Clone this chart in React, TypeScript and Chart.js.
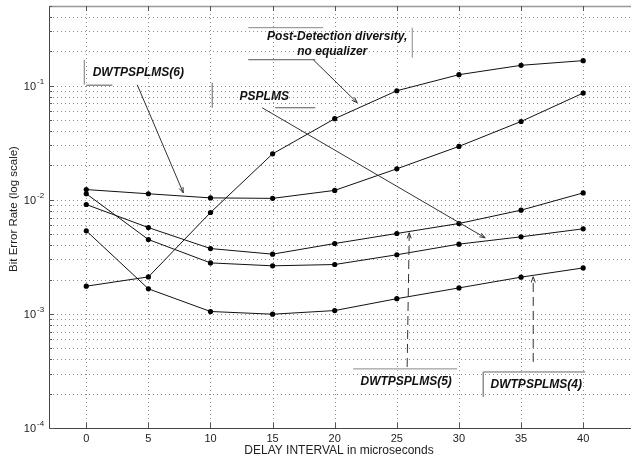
import React, { useEffect, useRef } from "react";
import { Chart, registerables } from "chart.js";

Chart.register(...registerables);

// ---- data ----
const delays = [0, 5, 10, 15, 20, 25, 30, 35, 40];
const postDetection = [0.00175, 0.00211, 0.00774, 0.0253, 0.0514, 0.0904, 0.125, 0.151, 0.166];
const dwtpsplms6 = [0.0123, 0.0113, 0.0104, 0.0103, 0.0121, 0.0187, 0.0294, 0.0486, 0.0863];
const psplms = [0.0113, 0.00449, 0.0028, 0.00264, 0.00271, 0.0033, 0.00409, 0.00474, 0.00557];
const dwtpsplms5 = [0.0091, 0.00571, 0.00374, 0.00334, 0.00414, 0.00507, 0.0062, 0.00812, 0.0115];
const dwtpsplms4 = [0.00535, 0.00166, 0.00105, 0.000994, 0.00107, 0.00136, 0.00169, 0.0021, 0.00253];

const xTicks = [0, 5, 10, 15, 20, 25, 30, 35, 40];
const yDecades = [-4, -3, -2, -1];
const xTitle = "DELAY INTERVAL in microseconds";
const yTitle = "Bit Error Rate (log scale)";

const FONT = '"Liberation Sans", Arial, sans-serif';

function gridValues(): number[] {
  const out: number[] = [];
  for (const e of yDecades) {
    for (let m = 1; m <= 9; m++) {
      const v = m * Math.pow(10, e);
      if (v <= 0.5 + 1e-9) out.push(v);
    }
  }
  return out;
}

const decorPlugin = {
  id: "matlabDecor",
  beforeDatasetsDraw(chart: any) {
    const { ctx, chartArea: a, scales } = chart;
    const x = scales.x;
    const y = scales.y;
    ctx.save();
    ctx.beginPath();
    ctx.rect(a.left, a.top, a.right - a.left, a.bottom - a.top);
    ctx.clip();
    ctx.strokeStyle = "#8c8c8c";
    ctx.lineWidth = 1;
    ctx.setLineDash([1, 3]);
    for (const v of xTicks) {
      const px = Math.round(x.getPixelForValue(v)) + 0.5;
      ctx.beginPath();
      ctx.moveTo(px, a.top);
      ctx.lineTo(px, a.bottom);
      ctx.stroke();
    }
    for (const v of gridValues()) {
      const py = Math.round(y.getPixelForValue(v)) + 0.5;
      ctx.beginPath();
      ctx.moveTo(a.left, py);
      ctx.lineTo(a.right, py);
      ctx.stroke();
    }
    ctx.restore();

    // axes frame
    ctx.save();
    ctx.setLineDash([]);
    ctx.lineWidth = 1;
    ctx.strokeStyle = "#444";
    ctx.beginPath();
    ctx.moveTo(a.left + 0.5, a.top);
    ctx.lineTo(a.left + 0.5, a.bottom + 0.5);
    ctx.lineTo(a.right, a.bottom + 0.5);
    ctx.stroke();
    ctx.strokeStyle = "#999";
    ctx.lineWidth = 1.5;
    ctx.beginPath();
    ctx.moveTo(a.left, a.top + 0.5);
    ctx.lineTo(a.right, a.top + 0.5);
    ctx.stroke();
    // tick marks
    ctx.lineWidth = 1;
    ctx.strokeStyle = "#555";
    for (const v of xTicks) {
      const px = Math.round(x.getPixelForValue(v)) + 0.5;
      ctx.beginPath();
      ctx.moveTo(px, a.bottom);
      ctx.lineTo(px, a.bottom - 5);
      ctx.moveTo(px, a.top);
      ctx.lineTo(px, a.top + 5);
      ctx.stroke();
    }
    for (const v of gridValues()) {
      const py = Math.round(y.getPixelForValue(v)) + 0.5;
      const major = Math.abs(Math.log10(v) - Math.round(Math.log10(v))) < 1e-6;
      ctx.beginPath();
      ctx.moveTo(a.left, py);
      ctx.lineTo(a.left + (major ? 5 : 3), py);
      ctx.stroke();
    }
    ctx.restore();
  },
  afterDatasetsDraw(chart: any) {
    const { ctx, chartArea: a, scales } = chart;
    const x = scales.x;
    const y = scales.y;
    const P = (xv: number, ly: number): [number, number] => [
      x.getPixelForValue(xv),
      y.getPixelForValue(Math.pow(10, ly)),
    ];

    ctx.save();
    // y tick labels 10^e
    ctx.fillStyle = "#222";
    for (const e of yDecades) {
      const py = y.getPixelForValue(Math.pow(10, e));
      ctx.font = `11px ${FONT}`;
      ctx.textAlign = "right";
      ctx.textBaseline = "middle";
      ctx.fillText("10", 36, py + 1);
      ctx.font = `8px ${FONT}`;
      ctx.textAlign = "left";
      ctx.fillText(String(e), 37, py - 4);
    }
    // axis titles
    ctx.font = `12px ${FONT}`;
    ctx.textAlign = "center";
    ctx.textBaseline = "middle";
    ctx.fillText(xTitle, 339, 451);
    ctx.save();
    ctx.translate(14, 209);
    ctx.rotate(-Math.PI / 2);
    ctx.font = `11.5px ${FONT}`;
    ctx.fillText(yTitle, 0, 0);
    ctx.restore();

    // annotations
    const seg = (p: [number, number], q: [number, number], color = "#333", dash: number[] = []) => {
      ctx.save();
      ctx.strokeStyle = color;
      ctx.lineWidth = 1;
      ctx.setLineDash(dash);
      ctx.beginPath();
      ctx.moveTo(p[0], p[1]);
      ctx.lineTo(q[0], q[1]);
      ctx.stroke();
      ctx.restore();
    };
    const arrow = (p: [number, number], q: [number, number], dash: number[] = []) => {
      seg(p, q, "#333", dash);
      const ang = Math.atan2(q[1] - p[1], q[0] - p[0]);
      const L = 6;
      const w = 0.35;
      ctx.save();
      ctx.strokeStyle = "#333";
      ctx.lineWidth = 1;
      ctx.beginPath();
      ctx.moveTo(q[0] - L * Math.cos(ang - w), q[1] - L * Math.sin(ang - w));
      ctx.lineTo(q[0], q[1]);
      ctx.lineTo(q[0] - L * Math.cos(ang + w), q[1] - L * Math.sin(ang + w));
      ctx.stroke();
      ctx.restore();
    };
    const label = (t: string, p: [number, number]) => {
      ctx.save();
      ctx.font = `italic bold 12px ${FONT}`;
      ctx.fillStyle = "#111";
      ctx.textAlign = "center";
      ctx.textBaseline = "middle";
      ctx.fillText(t, p[0], p[1]);
      ctx.restore();
    };

    // DWTPSPLMS(6)
    label("DWTPSPLMS(6)", P(4.19, -0.886));
    seg(P(-0.16, -0.772), P(-0.16, -0.991), "#777");
    seg(P(0, -0.995), P(2.1, -0.995), "#555");
    arrow(P(4.1, -0.991), P(7.81, -1.939));

    // PSPLMS
    label("PSPLMS", P(14.33, -1.096));
    seg(P(10.14, -0.974), P(10.14, -1.193), "#666");
    seg(P(15.2, -1.193), P(18.43, -1.193), "#555");
    arrow(P(14.16, -1.193), P(32.11, -2.333));

    // Post-Detection
    label("Post-Detection diversity,", P(20.2, -0.57));
    label("no equalizer", P(19.8, -0.702));
    seg(P(13.04, -0.491), P(19.07, -0.491), "#888");
    seg(P(13.04, -0.772), P(18.43, -0.772), "#555");
    seg(P(26.24, -0.491), P(26.24, -0.754), "#888");
    arrow(P(18.27, -0.772), P(21.81, -1.149));

    // DWTPSPLMS(5)
    label("DWTPSPLMS(5)", P(25.75, -3.596));
    seg(P(21.49, -3.482), P(29.86, -3.482), "#888");
    arrow(P(25.83, -3.465), P(26.0, -2.289), [9, 5]);

    // DWTPSPLMS(4)
    label("DWTPSPLMS(4)", P(36.22, -3.623));
    seg(P(31.95, -3.509), P(31.95, -3.728), "#555");
    seg(P(31.95, -3.509), P(40.16, -3.509), "#666");
    arrow(P(35.98, -3.421), P(35.98, -2.675), [9, 5]);

    ctx.restore();
  },
};

function series(label: string, values: number[]) {
  return {
    label,
    data: delays.map((d, i) => ({ x: d, y: values[i] })),
    borderColor: "#111",
    backgroundColor: "#000",
    borderWidth: 1,
    pointRadius: 2.6,
    pointBorderWidth: 0,
    pointBackgroundColor: "#000",
    tension: 0,
    fill: false,
  };
}

export default function App() {
  const ref = useRef<HTMLCanvasElement | null>(null);
  useEffect(() => {
    document.body.style.margin = "0";
    document.body.style.overflow = "hidden";
    const canvas = ref.current;
    if (!canvas) return;
    const chart = new Chart(canvas, {
      type: "line",
      data: {
        datasets: [
          series("Post-Detection diversity, no equalizer", postDetection),
          series("DWTPSPLMS(6)", dwtpsplms6),
          series("PSPLMS", psplms),
          series("DWTPSPLMS(5)", dwtpsplms5),
          series("DWTPSPLMS(4)", dwtpsplms4),
        ],
      },
      options: {
        responsive: false,
        animation: false,
        devicePixelRatio: 1,
        layout: { padding: { top: 6, right: 0, left: 0, bottom: 0 }, autoPadding: false },
        plugins: { legend: { display: false }, tooltip: { enabled: false }, title: { display: false } },
        scales: {
          x: {
            type: "linear",
            min: -3,
            max: 43.85,
            afterBuildTicks: (s: any) => {
              s.ticks = xTicks.map((v) => ({ value: v }));
            },
            afterFit: (s: any) => {
              s.height = 31;
            },
            grid: { display: false, drawTicks: false },
            border: { display: false },
            ticks: {
              padding: 4,
              color: "#222",
              font: { family: FONT, size: 11 },
              maxRotation: 0,
              autoSkip: false,
            },
          },
          y: {
            type: "logarithmic",
            min: 1e-4,
            max: 0.5,
            afterBuildTicks: (s: any) => {
              s.ticks = gridValues().map((v) => ({ value: v }));
            },
            afterFit: (s: any) => {
              s.width = 49;
            },
            grid: { display: false, drawTicks: false },
            border: { display: false },
            ticks: { display: false },
          },
        },
      } as any,
      plugins: [decorPlugin],
    });
    return () => chart.destroy();
  }, []);
  return (
    <div style={{ width: 631, height: 459, overflow: "hidden" }}>
      <canvas ref={ref} width={631} height={459} style={{ display: "block" }} />
    </div>
  );
}
